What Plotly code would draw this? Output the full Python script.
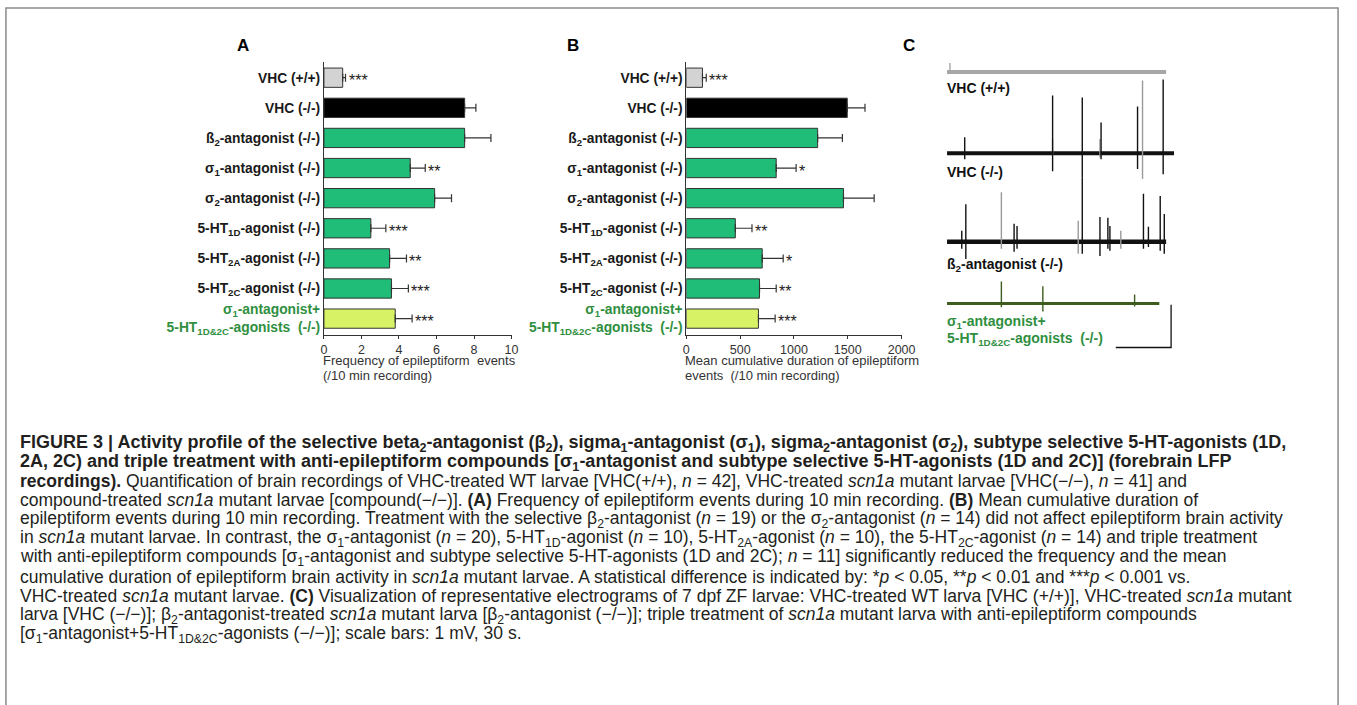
import plotly.graph_objects as go

W, H = 1357, 705

def px(x):
    return x / W

def py(y):
    return 1 - y / H

# ---------------- data ----------------
categories = ["VHC (+/+)", "VHC (-/-)", "ß2-antagonist (-/-)", "σ1-antagonist (-/-)",
              "σ2-antagonist (-/-)", "5-HT1D-agonist (-/-)", "5-HT2A-agonist (-/-)",
              "5-HT2C-agonist (-/-)", "σ1-antagonist+ 5-HT1D&2C-agonists (-/-)"]
GREEN_TXT = "#2f8f3f"
tick_labels = [
    "<b>VHC (+/+)</b>",
    "<b>VHC (-/-)</b>",
    "<b>ß<sub>2</sub>-antagonist (-/-)</b>",
    "<b>σ<sub>1</sub>-antagonist (-/-)</b>",
    "<b>σ<sub>2</sub>-antagonist (-/-)</b>",
    "<b>5-HT<sub>1D</sub>-agonist (-/-)</b>",
    "<b>5-HT<sub>2A</sub>-agonist (-/-)</b>",
    "<b>5-HT<sub>2C</sub>-agonist (-/-)</b>",
    "<b><span style='color:%s'>σ<sub>1</sub>-antagonist+<br>5-HT<sub>1D&amp;2C</sub>-agonists  (-/-)</span></b>" % GREEN_TXT,
]
bar_colors = ["#d3d3d3", "#000000", "#1fbd78", "#1fbd78", "#1fbd78", "#1fbd78",
              "#1fbd78", "#1fbd78", "#d8f266"]

freq_mean = [1.0, 7.5, 7.5, 4.6, 5.9, 2.5, 3.5, 3.6, 3.8]
freq_err = [0.15, 0.6, 1.4, 0.8, 0.9, 0.8, 0.9, 0.9, 0.9]
freq_sig = ["***", "", "", "**", "", "***", "**", "***", "***"]
freq_ticks = [0, 2, 4, 6, 8, 10]

dur_mean = [150, 1495, 1220, 835, 1460, 455, 705, 680, 670]
dur_err = [35, 165, 230, 185, 285, 155, 195, 155, 155]
dur_sig = ["***", "", "", "*", "", "**", "*", "**", "***"]
dur_ticks = [0, 500, 1000, 1500, 2000]

# electrograms (time in s, amplitude in mV relative to trace baseline)
wt_len, wt_spk_t, wt_spk_up, wt_spk_dn = 118.9, [1.6], [0.21], [0.0]
mut_len = 123.2
mut_spk_t = [9.6, 57.3, 73.4, 83.6, 103.4, 117.3]
mut_spk_up = [0.37, 1.35, 1.30, 0.72, 1.09, 1.72]
mut_spk_dn = [0.14, 0.42, 0.56, 0.14, 0.37, 0.49]
mut_gray_t = [57.3, 83.0, 106.1]
mut_gray_up = [0.33, 0.33, 1.70]
mut_gray_dn = [0.05, 0.10, 0.60]
b2_len = 118.9
b2_spk_t = [8.0, 10.2, 36.4, 38.0, 73.4, 83.0, 87.3, 88.4, 106.6, 109.3, 115.7, 117.9]
b2_spk_up = [0.26, 0.88, 0.42, 0.37, 1.51, 0.58, 0.56, 0.37, 1.12, 0.35, 1.07, 0.65]
b2_spk_dn = [0.16, 0.40, 0.23, 0.16, 0.28, 0.33, 0.16, 0.21, 0.16, 0.12, 0.21, 0.28]
b2_gray_t = [29.5, 71.2, 94.3]
b2_gray_up = [1.16, 0.49, 0.26]
b2_gray_dn = [0.16, 0.28, 0.16]
tri_len = 115.2
tri_spk_t = [29.5, 52.0, 101.8]
tri_spk_up = [0.51, 0.40, 0.21]
tri_spk_dn = [0.09, 0.19, 0.07]
trace_offsets = [-0.40, -2.30, -4.37, -5.81]
scale_mv, scale_s = 1.0, 30.0
scale_corner = (121.6, -6.84)

caption_lines = [
    "<b>FIGURE 3 | Activity profile of the selective beta<sub>2</sub>-antagonist (β<sub>2</sub>), sigma<sub>1</sub>-antagonist (σ<sub>1</sub>), sigma<sub>2</sub>-antagonist (σ<sub>2</sub>), subtype selective 5-HT-agonists (1D,</b>",
    "<b>2A, 2C) and triple treatment with anti-epileptiform compounds [σ<sub>1</sub>-antagonist and subtype selective 5-HT-agonists (1D and 2C)] (forebrain LFP</b>",
    "<b>recordings).</b> Quantification of brain recordings of VHC-treated WT larvae [VHC(+/+), <i>n</i> = 42], VHC-treated <i>scn1a</i> mutant larvae [VHC(−/−), <i>n</i> = 41] and",
    "compound-treated <i>scn1a</i> mutant larvae [compound(−/−)]. <b>(A)</b> Frequency of epileptiform events during 10 min recording. <b>(B)</b> Mean cumulative duration of",
    "epileptiform events during 10 min recording. Treatment with the selective β<sub>2</sub>-antagonist (<i>n</i> = 19) or the σ<sub>2</sub>-antagonist (<i>n</i> = 14) did not affect epileptiform brain activity",
    "in <i>scn1a</i> mutant larvae. In contrast, the σ<sub>1</sub>-antagonist (<i>n</i> = 20), 5-HT<sub>1D</sub>-agonist (<i>n</i> = 10), 5-HT<sub>2A</sub>-agonist (<i>n</i> = 10), the 5-HT<sub>2C</sub>-agonist (<i>n</i> = 14) and triple treatment",
    "with anti-epileptiform compounds [σ<sub>1</sub>-antagonist and subtype selective 5-HT-agonists (1D and 2C); <i>n</i> = 11] significantly reduced the frequency and the mean",
    "cumulative duration of epileptiform brain activity in <i>scn1a</i> mutant larvae. A statistical difference is indicated by: *<i>p</i> &lt; 0.05, **<i>p</i> &lt; 0.01 and ***<i>p</i> &lt; 0.001 vs.",
    "VHC-treated <i>scn1a</i> mutant larvae. <b>(C)</b> Visualization of representative electrograms of 7 dpf ZF larvae: VHC-treated WT larva [VHC (+/+)], VHC-treated <i>scn1a</i> mutant",
    "larva [VHC (−/−)]; β<sub>2</sub>-antagonist-treated <i>scn1a</i> mutant larva [β<sub>2</sub>-antagonist (−/−)]; triple treatment of <i>scn1a</i> mutant larva with anti-epileptiform compounds",
    "[σ<sub>1</sub>-antagonist+5-HT<sub>1D&amp;2C</sub>-agonists (−/−)]; scale bars: 1 mV, 30 s.",
]

# ---------------- figure ----------------
FONT = "Liberation Sans, Arial, sans-serif"
AX = "#333333"
fig = go.Figure()

for xa, ya, vals, errs in [("x", "y", freq_mean, freq_err), ("x2", "y2", dur_mean, dur_err)]:
    fig.add_trace(go.Bar(
        x=vals, y=categories, orientation="h", xaxis=xa, yaxis=ya, width=0.64,
        marker=dict(color=bar_colors, line=dict(color="#333333", width=1)),
        error_x=dict(type="data", array=errs, arrayminus=[0] * len(errs), symmetric=False,
                     color="#333333", thickness=1.2, width=4),
        hoverinfo="skip"))

annotations = []
for xr, yr, vals, errs, sig in [("x", "y", freq_mean, freq_err, freq_sig),
                                ("x2", "y2", dur_mean, dur_err, dur_sig)]:
    for c, v, e, s in zip(categories, vals, errs, sig):
        if s:
            annotations.append(dict(x=v + e, y=c, xref=xr, yref=yr, text=s, showarrow=False,
                                    xanchor="left", yanchor="middle", xshift=1, yshift=-3,
                                    font=dict(family=FONT, size=16, color="#222")))


def spike_xy(ts, ups, dns, off):
    xs, ys = [], []
    for t, u, d in zip(ts, ups, dns):
        xs += [t, t, None]
        ys += [off - d, off + u, None]
    return xs, ys


traces_c = [
    (wt_len, trace_offsets[0], "#a6a6a6", 4, [(wt_spk_t, wt_spk_up, wt_spk_dn, "#a6a6a6")]),
    (mut_len, trace_offsets[1], "#111111", 4, [(mut_gray_t, mut_gray_up, mut_gray_dn, "#9a9a9a"),
                                                (mut_spk_t, mut_spk_up, mut_spk_dn, "#111111")]),
    (b2_len, trace_offsets[2], "#111111", 4.5, [(b2_gray_t, b2_gray_up, b2_gray_dn, "#9a9a9a"),
                                                 (b2_spk_t, b2_spk_up, b2_spk_dn, "#111111")]),
    (tri_len, trace_offsets[3], "#3d5c1e", 3, [(tri_spk_t, tri_spk_up, tri_spk_dn, "#3d5c1e")]),
]
for length, off, col, lw, spikes in traces_c:
    fig.add_trace(go.Scatter(x=[0, length], y=[off, off], mode="lines", xaxis="x3", yaxis="y3",
                             line=dict(color=col, width=lw), hoverinfo="skip"))
    for ts, ups, dns, sc in spikes:
        xs, ys = spike_xy(ts, ups, dns, off)
        fig.add_trace(go.Scatter(x=xs, y=ys, mode="lines", xaxis="x3", yaxis="y3",
                                 line=dict(color=sc, width=1.4), hoverinfo="skip"))

sx, sy = scale_corner
fig.add_trace(go.Scatter(x=[sx, sx, sx - scale_s], y=[sy + scale_mv, sy, sy], mode="lines",
                         xaxis="x3", yaxis="y3", line=dict(color="#111111", width=1.3),
                         hoverinfo="skip"))

# panel letters
for letter, x, y in [("A", 243, 46), ("B", 577, 46), ("C", 918, 46)]:
    annotations.append(dict(x=px(x), y=py(y), xref="paper", yref="paper", text="<b>%s</b>" % letter,
                            showarrow=False, xanchor="center", yanchor="middle",
                            font=dict(family=FONT, size=17, color="#000")))

# axis titles
for x0, l1, l2 in [(325, "Frequency of epileptiform  events", "(/10 min recording)"),
                   (692, "Mean cumulative duration of epileptiform", "events  (/10 min recording)")]:
    for txt, y in [(l1, 362), (l2, 377)]:
        annotations.append(dict(x=px(x0 - 3), y=py(y), xref="paper", yref="paper", text=txt,
                                showarrow=False, xanchor="left", yanchor="middle",
                                font=dict(family=FONT, size=13, color=AX)))

# panel C labels
for txt, y, col in [("<b>VHC (+/+)</b>", 88, "#111"), ("<b>VHC (-/-)</b>", 173, "#111"),
                    ("<b>ß<sub>2</sub>-antagonist (-/-)</b>", 266, "#111"),
                    ("<b>σ<sub>1</sub>-antagonist+</b>", 323, GREEN_TXT),
                    ("<b>5-HT<sub>1D&amp;2C</sub>-agonists  (-/-)</b>", 340, GREEN_TXT)]:
    annotations.append(dict(x=px(954), y=py(y), xref="paper", yref="paper", text=txt,
                            showarrow=False, xanchor="left", yanchor="middle",
                            font=dict(family=FONT, size=14, color=col)))

# caption
for i, line in enumerate(caption_lines):
    annotations.append(dict(x=px(15), y=py(445 + i * 19.2), xref="paper", yref="paper", text=line,
                            showarrow=False, xanchor="left", yanchor="middle", align="left",
                            font=dict(family=FONT, size=18 if i < 2 else 17.5, color="#231f20")))

ydom = [py(336), py(62)]
common_x = dict(showline=True, linecolor=AX, linewidth=1, ticks="outside", ticklen=3,
                tickcolor=AX, showgrid=False, zeroline=False,
                tickfont=dict(family=FONT, size=12.5, color=AX))
common_y = dict(domain=ydom, type="category", range=[8.53, -0.53], showline=True, linecolor=AX,
                linewidth=1, ticks="", showgrid=False, zeroline=False,
                tickmode="array", tickvals=categories, ticktext=tick_labels,
                tickfont=dict(family=FONT, size=13.8, color="#1a1a1a"))

fig.update_layout(
    width=W, height=H, margin=dict(l=0, r=0, t=0, b=0),
    paper_bgcolor="white", plot_bgcolor="rgba(0,0,0,0)", showlegend=False, bargap=0.3,
    xaxis=dict(domain=[px(325), px(515)], range=[0, 10], tickvals=freq_ticks, anchor="y", **common_x),
    yaxis=dict(anchor="x", **common_y),
    xaxis2=dict(domain=[px(692), px(910)], range=[0, 2000], tickvals=dur_ticks, anchor="y2", **common_x),
    yaxis2=dict(anchor="x2", **common_y),
    xaxis3=dict(domain=[px(956), px(1190)], range=[0, 125.4], visible=False, anchor="y3"),
    yaxis3=dict(domain=[py(355), py(55)], range=[-6.98, 0], visible=False, anchor="x3"),
    annotations=annotations,
    shapes=[dict(type="rect", xref="paper", yref="paper", x0=px(3), x1=px(1352), y0=-0.05, y1=py(8),
                 line=dict(color="#8a8a8a", width=1.5), layer="below")],
)

fig.write_html("out.html")
